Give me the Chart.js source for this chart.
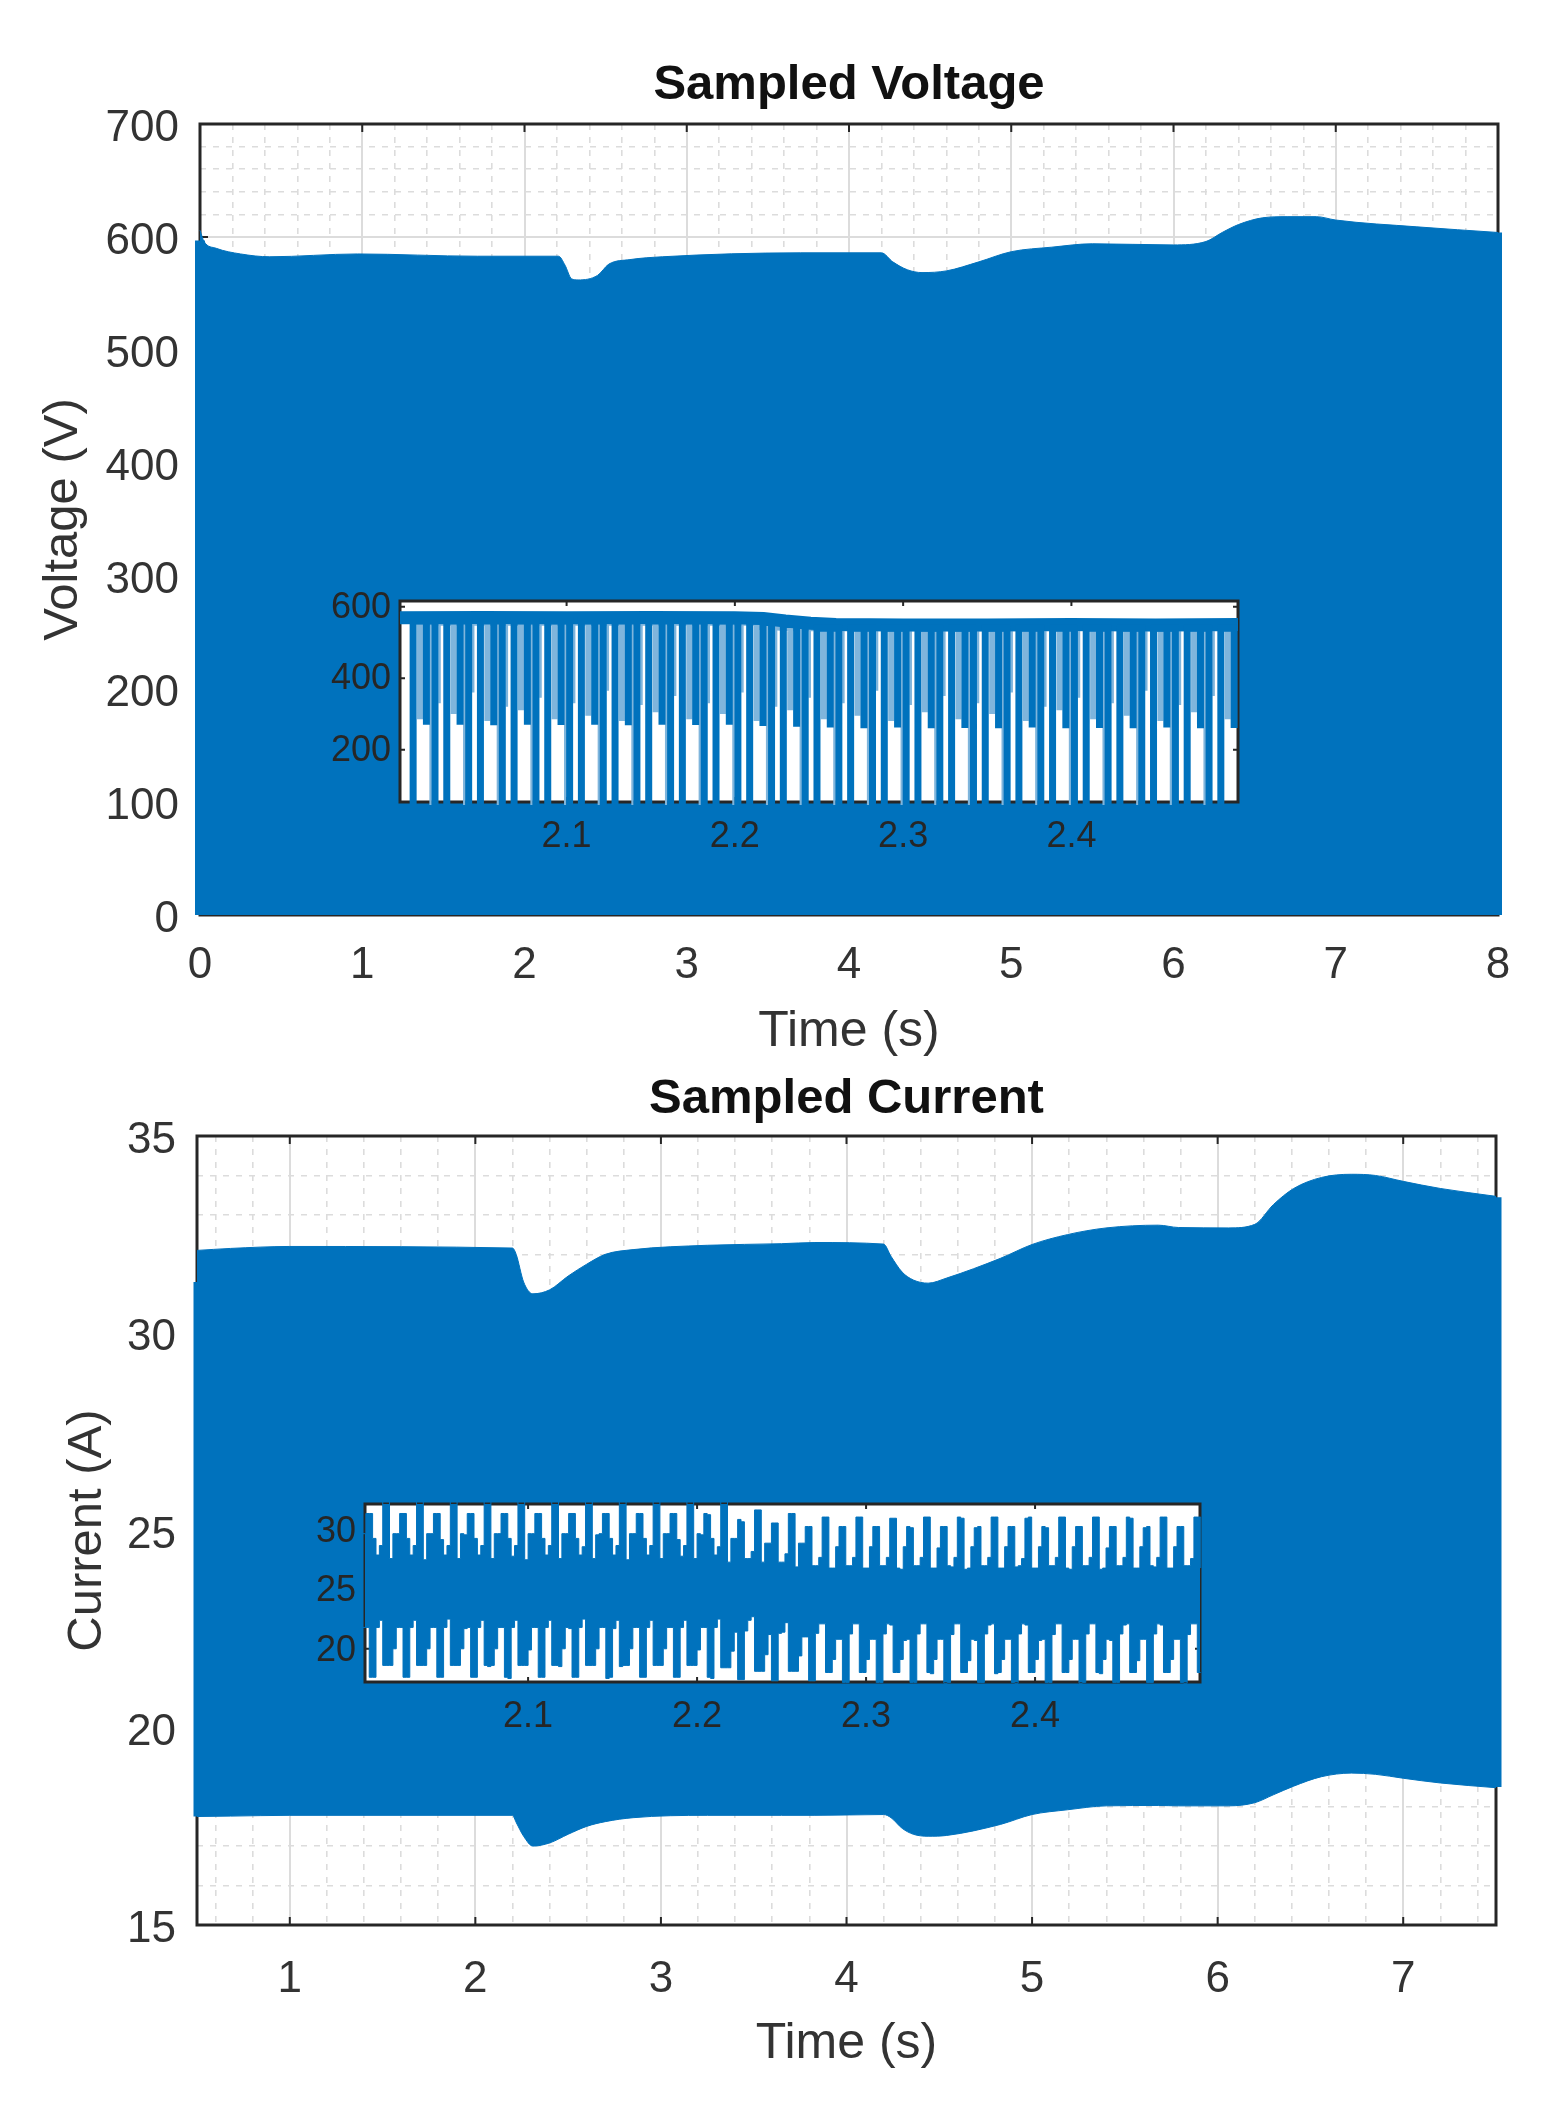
<!DOCTYPE html>
<html>
<head>
<meta charset="utf-8">
<title>Sampled Voltage and Current</title>
<script src="https://cdn.jsdelivr.net/npm/chart.js@4"></script>
<style>
  html, body { margin: 0; background: #fff; }
  #page { position: relative; width: 1562px; height: 2108px; overflow: hidden; }
  canvas { position: absolute; }
</style>
</head>
<body>
<div id="page">
  <canvas id="voltageMain" width="1562" height="1080" style="left:0;top:0"></canvas>
  <canvas id="currentMain" width="1562" height="1068" style="left:0;top:1040px"></canvas>
  <canvas id="voltageInset" width="920" height="270" style="left:330px;top:590px"></canvas>
  <canvas id="currentInset" width="920" height="250" style="left:295px;top:1493px"></canvas>
</div>
<script>
// tick labels
const voltXMajor = [0, 1, 2, 3, 4, 5, 6, 7, 8];
const voltYMajor = [0, 100, 200, 300, 400, 500, 600, 700];
const currXMajor = [1, 2, 3, 4, 5, 6, 7];
const currYMajor = [15, 20, 25, 30, 35];
const voltInsetX = [2.1, 2.2, 2.3, 2.4];
const voltInsetY = [200, 400, 600];
const currInsetX = [2.1, 2.2, 2.3, 2.4];
const currInsetY = [20, 25, 30];

// minor grid positions
const voltXMinor = [0.2,0.4,0.6,0.8,1.2,1.4,1.6,1.8,2.2,2.4,2.6,2.8,3.2,3.4,3.6,3.8,4.2,4.4,4.6,4.8,5.2,5.4,5.6,5.8,6.2,6.4,6.6,6.8,7.2,7.4,7.6,7.8];
const voltYMinor = [620,640,660,680];
const currXMinor = [0.6,0.8,1.2,1.4,1.6,1.8,2.2,2.4,2.6,2.8,3.2,3.4,3.6,3.8,4.2,4.4,4.6,4.8,5.2,5.4,5.6,5.8,6.2,6.4,6.6,6.8,7.2,7.4];
const currYMinor = [16,17,18,19,21,22,23,24,26,27,28,29,31,32,33,34];

// voltage envelope
const voltTime = [0,0.025,0.1,0.25,0.43,0.97,1.71,2.21,2.25,2.29,2.33,2.45,2.52,2.65,2.85,3.7,4.2,4.27,4.36,4.45,4.6,4.8,5,5.25,5.5,6,6.2,6.3,6.4,6.55,6.7,6.88,7,7.5,8];
const voltPeak = [606,596,590,585,582.5,585,583,583,575,563,562,566,576,580,582.5,586,586,578,571,568.5,570,578,587,591,594,593,596,604,611,617,618,618,615,609,604];
const voltEdgeLeftT = [0,0];
const voltEdgeLeftV = [0,597];
const voltEdgeRightT = [8,8];
const voltEdgeRightV = [0,604];

// current envelopes
const currTime = [0.5,0.68,1,2.2,2.22,2.26,2.31,2.4,2.5,2.6,2.7,2.85,3.25,3.65,3.83,4.2,4.24,4.3,4.36,4.44,4.54,4.83,5,5.19,5.4,5.68,5.79,6.06,6.2,6.3,6.41,6.56,6.72,6.85,7,7.2,7.5];
const currUpper = [32.1,32.15,32.2,32.16,32,31.3,31,31.1,31.45,31.75,32,32.12,32.23,32.27,32.3,32.26,31.95,31.55,31.35,31.27,31.4,31.9,32.25,32.5,32.67,32.74,32.68,32.67,32.76,33.26,33.67,33.95,34.03,34,33.85,33.67,33.47];
const currLower = [17.75,17.76,17.78,17.78,17.6,17.25,17,17.08,17.3,17.5,17.62,17.72,17.78,17.78,17.78,17.8,17.72,17.45,17.3,17.25,17.27,17.55,17.8,17.92,18.02,18.03,18.02,18.02,18.1,18.3,18.52,18.76,18.85,18.82,18.72,18.6,18.48];
const currEdgeLeftT = [0.5,0.5];
const currEdgeLeftV = [17.75,31.3];
const currEdgeRightT = [7.5,7.5];
const currEdgeRightV = [18.5,33.45];

// voltage zoom: vertical strokes, low ends run below the axis
const voltZoomTime = [
  2.0088,2.0088,2.0167,2.0167,2.0167,
  2.0218,2.0218,2.0288,2.0288,2.0367,2.0367,2.0367,
  2.0418,2.0418,2.0488,2.0488,2.0567,2.0567,2.0567,
  2.0618,2.0618,2.0688,2.0688,2.0767,2.0767,2.0767,
  2.0818,2.0818,2.0888,2.0888,2.0967,2.0967,2.0967,
  2.1018,2.1018,2.1088,2.1088,2.1167,2.1167,2.1167,
  2.1218,2.1218,2.1288,2.1288,2.1367,2.1367,2.1367,
  2.1418,2.1418,2.1488,2.1488,2.1567,2.1567,2.1567,
  2.1618,2.1618,2.1688,2.1688,2.1767,2.1767,2.1767,
  2.1818,2.1818,2.1888,2.1888,2.1967,2.1967,2.1967,
  2.2018,2.2018,2.2088,2.2088,2.2167,2.2167,2.2167,
  2.2218,2.2218,2.2288,2.2288,2.2367,2.2367,2.2367,
  2.2418,2.2418,2.2488,2.2488,2.2567,2.2567,2.2567,
  2.2618,2.2618,2.2688,2.2688,2.2767,2.2767,2.2767,
  2.2818,2.2818,2.2888,2.2888,2.2967,2.2967,2.2967,
  2.3018,2.3018,2.3088,2.3088,2.3167,2.3167,2.3167,
  2.3218,2.3218,2.3288,2.3288,2.3367,2.3367,2.3367,
  2.3418,2.3418,2.3488,2.3488,2.3567,2.3567,2.3567,
  2.3618,2.3618,2.3688,2.3688,2.3767,2.3767,2.3767,
  2.3818,2.3818,2.3888,2.3888,2.3967,2.3967,2.3967,
  2.4018,2.4018,2.4088,2.4088,2.4167,2.4167,2.4167,
  2.4218,2.4218,2.4288,2.4288,2.4367,2.4367,2.4367,
  2.4418,2.4418,2.4488,2.4488,2.4567,2.4567,2.4567,
  2.4618,2.4618,2.4688,2.4688,2.4767,2.4767,2.4767,
  2.4818,2.4818,2.4888,2.4888,2.4967,2.4967,2.4967
];
const voltZoomValue = [
  -50,560,560,270,560,
  560,-50,-50,560,560,270,560,
  560,-50,-50,560,560,268,560,
  560,-50,-50,560,560,270,560,
  560,-50,-50,560,560,269,560,
  560,-50,-50,560,560,270,560,
  560,-50,-50,560,560,268,560,
  560,-50,-50,560,560,270,560,
  560,-50,-50,560,560,269,560,
  560,-50,-50,560,560,270,560,
  560,-50,-50,560,560,266,560,
  555,-50,-50,550,550,264,550,
  545,-50,-50,540,540,262,540,
  540,-50,-50,540,540,260,540,
  540,-50,-50,540,540,262,540,
  540,-50,-50,540,540,260,540,
  540,-50,-50,540,540,261,540,
  540,-50,-50,540,540,260,540,
  540,-50,-50,540,540,262,540,
  540,-50,-50,540,540,260,540,
  540,-50,-50,540,540,261,540,
  540,-50,-50,540,540,260,540,
  540,-50,-50,540,540,262,540,
  540,-50,-50,540,540,260,540,
  540,-50,-50,540,540,261,540
];
const voltBandTime = [2.001,2.05,2.1,2.15,2.2,2.217,2.23,2.245,2.26,2.3,2.35,2.4,2.45,2.499];
const voltBandValue = [569,570,569,570,569,567,560,554,550,549,549,550,549,550];
// paler strokes beside the main ones
const voltFadeTime = [
  2.0129,2.0129,2.0129,2.0329,2.0329,2.0329,2.0529,2.0529,2.0529,2.0729,2.0729,2.0729,2.0929,2.0929,2.0929,
  2.1129,2.1129,2.1129,2.1329,2.1329,2.1329,2.1529,2.1529,2.1529,2.1729,2.1729,2.1729,2.1929,2.1929,2.1929,
  2.2129,2.2129,2.2129,2.2329,2.2329,2.2329,2.2529,2.2529,2.2529,2.2729,2.2729,2.2729,2.2929,2.2929,2.2929,
  2.3129,2.3129,2.3129,2.3329,2.3329,2.3329,2.3529,2.3529,2.3529,2.3729,2.3729,2.3729,2.3929,2.3929,2.3929,
  2.4129,2.4129,2.4129,2.4329,2.4329,2.4329,2.4529,2.4529,2.4529,2.4729,2.4729,2.4729,2.4929,2.4929,2.4929
];
const voltFadeValue = [
  555,285,555,555,300,555,555,280,555,555,310,555,555,285,555,
  555,295,555,555,280,555,555,305,555,555,285,555,555,300,555,
  555,280,545,540,310,540,540,285,540,540,295,540,540,280,540,
  540,305,540,540,285,540,540,300,540,540,280,540,540,310,540,
  540,285,540,540,295,540,540,280,540,540,305,540,540,285,540
];
const voltThinTime = [
  2.0192,2.0192,2.0192,2.0245,2.0245,2.0245,2.0392,2.0392,2.0392,2.0445,2.0445,2.0445,2.0592,2.0592,2.0592,2.0645,2.0645,2.0645,
  2.0792,2.0792,2.0792,2.0845,2.0845,2.0845,2.0992,2.0992,2.0992,2.1045,2.1045,2.1045,2.1192,2.1192,2.1192,2.1245,2.1245,2.1245,
  2.1392,2.1392,2.1392,2.1445,2.1445,2.1445,2.1592,2.1592,2.1592,2.1645,2.1645,2.1645,2.1792,2.1792,2.1792,2.1845,2.1845,2.1845,
  2.1992,2.1992,2.1992,2.2045,2.2045,2.2045,2.2192,2.2192,2.2192,2.2245,2.2245,2.2245,2.2392,2.2392,2.2392,2.2445,2.2445,2.2445,
  2.2592,2.2592,2.2592,2.2645,2.2645,2.2645,2.2792,2.2792,2.2792,2.2845,2.2845,2.2845,2.2992,2.2992,2.2992,2.3045,2.3045,2.3045,
  2.3192,2.3192,2.3192,2.3245,2.3245,2.3245,2.3392,2.3392,2.3392,2.3445,2.3445,2.3445,2.3592,2.3592,2.3592,2.3645,2.3645,2.3645,
  2.3792,2.3792,2.3792,2.3845,2.3845,2.3845,2.3992,2.3992,2.3992,2.4045,2.4045,2.4045,2.4192,2.4192,2.4192,2.4245,2.4245,2.4245,
  2.4392,2.4392,2.4392,2.4445,2.4445,2.4445,2.4592,2.4592,2.4592,2.4645,2.4645,2.4645,2.4792,2.4792,2.4792,2.4845,2.4845,2.4845
];
const voltThinValue = [
  555,-50,555,555,330,555,555,-50,555,555,360,555,555,-50,555,555,320,555,
  555,-50,555,555,345,555,555,-50,555,555,330,555,555,-50,555,555,365,555,
  555,-50,555,555,325,555,555,-50,555,555,350,555,555,-50,555,555,330,555,
  555,-50,555,555,360,555,555,-50,555,555,320,555,540,-50,540,540,345,540,
  540,-50,540,540,330,540,540,-50,540,540,365,540,540,-50,540,540,325,540,
  540,-50,540,540,350,540,540,-50,540,540,330,540,540,-50,540,540,360,540,
  540,-50,540,540,320,540,540,-50,540,540,345,540,540,-50,540,540,330,540,
  540,-50,540,540,365,540,540,-50,540,540,325,540,540,-50,540,540,350,540
];

// current zoom: one sample every 2 ms
const currZoomTime = [
  2.000,2.002,2.004,2.006,2.008,2.010,2.012,
  2.014,2.016,2.018,2.020,2.022,2.024,2.026,2.028,2.030,2.032,
  2.034,2.036,2.038,2.040,2.042,2.044,2.046,2.048,2.050,2.052,
  2.054,2.056,2.058,2.060,2.062,2.064,2.066,2.068,2.070,2.072,
  2.074,2.076,2.078,2.080,2.082,2.084,2.086,2.088,2.090,2.092,
  2.094,2.096,2.098,2.100,2.102,2.104,2.106,2.108,2.110,2.112,
  2.114,2.116,2.118,2.120,2.122,2.124,2.126,2.128,2.130,2.132,
  2.134,2.136,2.138,2.140,2.142,2.144,2.146,2.148,2.150,2.152,
  2.154,2.156,2.158,2.160,2.162,2.164,2.166,2.168,2.170,2.172,
  2.174,2.176,2.178,2.180,2.182,2.184,2.186,2.188,2.190,2.192,
  2.194,2.196,2.198,2.200,2.202,2.204,2.206,2.208,2.210,2.212,
  2.214,2.216,2.218,2.220,2.222,2.224,2.226,2.228,2.230,2.232,
  2.234,2.236,2.238,2.240,2.242,2.244,2.246,2.248,2.250,2.252,
  2.254,2.256,2.258,2.260,2.262,2.264,2.266,2.268,2.270,2.272,
  2.274,2.276,2.278,2.280,2.282,2.284,2.286,2.288,2.290,2.292,
  2.294,2.296,2.298,2.300,2.302,2.304,2.306,2.308,2.310,2.312,
  2.314,2.316,2.318,2.320,2.322,2.324,2.326,2.328,2.330,2.332,
  2.334,2.336,2.338,2.340,2.342,2.344,2.346,2.348,2.350,2.352,
  2.354,2.356,2.358,2.360,2.362,2.364,2.366,2.368,2.370,2.372,
  2.374,2.376,2.378,2.380,2.382,2.384,2.386,2.388,2.390,2.392,
  2.394,2.396,2.398,2.400,2.402,2.404,2.406,2.408,2.410,2.412,
  2.414,2.416,2.418,2.420,2.422,2.424,2.426,2.428,2.430,2.432,
  2.434,2.436,2.438,2.440,2.442,2.444,2.446,2.448,2.450,2.452,
  2.454,2.456,2.458,2.460,2.462,2.464,2.466,2.468,2.470,2.472,
  2.474,2.476,2.478,2.480,2.482,2.484,2.486,2.488,2.490,2.492,
  2.494,2.496,2.498,2.500
];
const currZoomUpper = [
  29.7,29.7,31.4,31.4,29.3,27.9,28.7,
  32.5,32.5,27.6,29.7,29.7,31.4,31.4,29.3,27.9,28.7,
  32.5,32.5,27.5,29.7,29.7,31.4,31.4,29.2,27.9,28.7,
  32.5,32.5,27.6,29.7,29.6,31.4,31.4,29.3,27.9,28.7,
  32.5,32.5,27.6,29.7,29.7,31.4,31.4,29.3,27.8,28.7,
  32.5,32.5,27.5,29.7,29.7,31.4,31.4,29.3,27.9,28.7,
  32.5,32.5,27.6,29.7,29.7,31.4,31.4,29.3,27.9,28.6,
  32.5,32.5,27.6,29.6,29.7,31.4,31.4,29.3,27.9,28.7,
  32.5,32.5,27.5,29.7,29.7,31.4,31.4,29.3,27.9,28.7,
  32.5,32.5,27.6,29.7,29.7,31.4,31.4,29.2,27.8,28.7,
  32.5,32.5,27.6,29.7,29.6,31.4,31.3,29.3,27.9,28.6,
  32.5,32.5,27.3,29.3,29.3,30.9,30.7,27.6,27.6,28.2,
  31.7,31.7,27.3,28.9,28.9,30.6,30.6,27.3,27.3,28.0,
  31.4,31.4,26.9,28.9,28.9,30.3,30.3,27.0,27.0,27.7,
  31.1,31.1,26.8,26.8,28.6,30.3,30.3,27.0,27.0,27.7,
  31.1,31.1,26.8,26.8,28.6,30.3,30.3,27.0,27.0,27.7,
  31.0,31.0,26.8,26.7,28.6,30.3,30.2,27.0,27.0,27.7,
  31.1,31.1,26.8,26.8,28.5,30.3,30.3,27.0,26.9,27.7,
  31.1,31.0,26.7,26.8,28.6,30.2,30.3,27.0,27.0,27.7,
  31.1,31.1,26.8,26.8,28.6,30.3,30.3,26.9,27.0,27.6,
  31.0,31.1,26.8,26.8,28.6,30.3,30.2,27.0,27.0,27.7,
  31.1,31.1,26.8,26.7,28.6,30.3,30.3,27.0,27.0,27.7,
  31.1,31.1,26.7,26.8,28.5,30.3,30.3,27.0,27.0,27.7,
  31.1,31.0,26.8,26.8,28.6,30.2,30.3,27.0,26.9,27.7,
  31.1,31.1,26.8,26.8,28.6,30.3,30.3,27.0,27.0,27.6,
  31.1,31.1,26.8,26.8
];
const currZoomLower = [
  20.0,21.8,21.8,17.6,17.6,21.8,22.4,
  18.6,18.6,18.6,20.0,21.8,21.8,17.6,17.6,21.8,22.4,
  18.6,18.6,18.6,20.0,21.8,21.8,17.6,17.6,21.8,22.5,
  18.6,18.6,18.6,20.0,21.7,21.8,17.6,17.6,21.8,22.4,
  18.6,18.5,18.6,20.0,21.8,21.8,17.6,17.5,21.8,22.4,
  18.6,18.6,18.6,19.9,21.8,21.8,17.6,17.6,21.8,22.4,
  18.6,18.6,18.5,20.0,21.8,21.7,17.6,17.6,21.8,22.5,
  18.6,18.6,18.6,20.0,21.8,21.8,17.5,17.6,21.7,22.4,
  18.5,18.6,18.6,20.0,21.8,21.8,17.6,17.6,21.8,22.4,
  18.6,18.6,18.6,20.0,21.8,21.8,17.6,17.6,21.8,22.4,
  18.6,18.6,18.6,19.9,21.8,21.8,17.6,17.5,21.8,22.5,
  18.4,18.4,18.4,19.8,21.4,17.4,17.4,21.5,22.4,22.7,
  18.1,18.1,18.1,19.5,21.2,17.3,17.3,21.3,21.4,22.2,
  18.1,18.1,18.1,19.4,21.0,21.0,17.3,17.3,21.3,22.1,
  22.1,18.0,18.0,19.1,20.8,20.8,17.15,17.15,21.25,22.1,
  22.1,18.0,18.0,19.1,20.8,20.8,17.15,17.15,21.25,22.1,
  22.0,18.0,18.0,19.1,20.7,20.8,17.15,17.15,21.25,22.1,
  22.1,18.0,17.9,19.1,20.8,20.8,17.1,17.15,21.2,22.1,
  22.1,18.0,18.0,19.0,20.8,20.7,17.15,17.15,21.25,22.0,
  22.1,17.9,18.0,19.1,20.8,20.8,17.15,17.1,21.25,22.1,
  22.0,18.0,18.0,19.1,20.7,20.8,17.15,17.15,21.2,22.1,
  22.1,18.0,18.0,19.1,20.8,20.8,17.1,17.15,21.25,22.1,
  22.1,18.0,17.9,19.1,20.8,20.7,17.15,17.15,21.25,22.0,
  22.1,18.0,18.0,19.0,20.8,20.8,17.15,17.15,21.25,22.1,
  22.0,18.0,18.0,19.1,20.8,20.8,17.15,17.1,21.2,22.1,
  22.1,18.0,18.0,19.1
];

const BLUE = '#0072BD';
const FADE = '#7FB5DC';
const INK = '#262626';
const GRID = '#dcdcdc';
const FONT = '"Liberation Sans", Arial, sans-serif';

function points(xs, ys) {
  return xs.map((x, i) => ({ x: x, y: ys[i] }));
}

// frame and inward tick marks sit under the data, as in the picture
function framePlugin(xMajor, yMajor, tickLen, width) {
  return {
    id: 'frame',
    beforeDatasetsDraw(chart) {
      const { ctx, chartArea: a, scales } = chart;
      ctx.save();
      ctx.strokeStyle = INK;
      ctx.lineWidth = width;
      ctx.strokeRect(a.left, a.top, a.right - a.left, a.bottom - a.top);
      ctx.lineWidth = 2;
      ctx.beginPath();
      xMajor.forEach(v => {
        const x = scales.x.getPixelForValue(v);
        ctx.moveTo(x, a.top); ctx.lineTo(x, a.top + tickLen);
        ctx.moveTo(x, a.bottom); ctx.lineTo(x, a.bottom - tickLen);
      });
      yMajor.forEach(v => {
        const y = scales.y.getPixelForValue(v);
        ctx.moveTo(a.left, y); ctx.lineTo(a.left + tickLen, y);
        ctx.moveTo(a.right, y); ctx.lineTo(a.right - tickLen, y);
      });
      ctx.stroke();
      ctx.restore();
    }
  };
}

const whiteArea = {
  id: 'whiteArea',
  beforeDraw(chart) {
    const { ctx, chartArea: a } = chart;
    ctx.save();
    ctx.fillStyle = '#fff';
    ctx.fillRect(a.left, a.top, a.right - a.left, a.bottom - a.top);
    ctx.restore();
  }
};

function axis(min, max, major, minor, cfg) {
  const all = major.concat(minor);
  const isMajor = v => major.includes(v);
  return {
    type: 'linear',
    min: min,
    max: max,
    afterBuildTicks: s => { s.ticks = all.slice().sort((a, b) => a - b).map(v => ({ value: v })); },
    afterFit: s => {
      if (cfg.width !== undefined) s.width = cfg.width;
      if (cfg.height !== undefined) s.height = cfg.height;
      // labels near the ends must not push the plot area around
      s.paddingTop = 0; s.paddingBottom = 0; s.paddingLeft = 0; s.paddingRight = 0;
    },
    border: { display: false, dash: c => (c.tick && isMajor(c.tick.value)) ? [] : [6, 7] },
    grid: {
      display: cfg.grid,
      drawTicks: false,
      color: GRID,
      lineWidth: c => (c.tick && isMajor(c.tick.value)) ? 2 : 1.6
    },
    ticks: {
      autoSkip: false,
      maxRotation: 0,
      padding: cfg.pad,
      labelOffset: cfg.labelOffset || 0,
      color: cfg.color,
      font: { family: FONT, size: cfg.size },
      callback: v => isMajor(v) ? String(v) : ''
    },
    title: cfg.title ? {
      display: true,
      text: cfg.title,
      color: '#333',
      font: { family: FONT, size: cfg.titleSize },
      padding: cfg.titlePad
    } : { display: false }
  };
}

function baseOptions(extra) {
  return Object.assign({
    responsive: false,
    animation: false,
    devicePixelRatio: 1,
    elements: { point: { radius: 0 }, line: { tension: 0 } },
    plugins: { legend: { display: false }, tooltip: { enabled: false } }
  }, extra);
}

function mainTitle(text, top, bottom) {
  return {
    display: true, text: text, color: '#111', fullSize: false,
    font: { family: FONT, size: 49, weight: 'bold', lineHeight: 1.2 },
    padding: { top: top, bottom: bottom }
  };
}

const voltOptions = baseOptions({
  layout: { autoPadding: false, padding: { right: 64 } },
  scales: {
    x: axis(0, 8, voltXMajor, voltXMinor, { height: 165, grid: true, pad: 24, size: 44, color: '#333', title: 'Time (s)', titleSize: 50, titlePad: { top: 0, bottom: 18 } }),
    y: axis(0, 700, voltYMajor, voltYMinor, { width: 200, grid: true, pad: 21, labelOffset: 5, size: 44, color: '#333', title: 'Voltage (V)', titleSize: 49, titlePad: { top: 34, bottom: 0 } })
  }
});
voltOptions.plugins.title = mainTitle('Sampled Voltage', 56, 9.2);

new Chart(document.getElementById('voltageMain'), {
  type: 'line',
  data: { datasets: [
    { data: points(voltTime, voltPeak), borderColor: BLUE, backgroundColor: BLUE, borderWidth: 1, cubicInterpolationMode: 'monotone', fill: 'origin', clip: false },
    { data: points(voltEdgeLeftT, voltEdgeLeftV), borderColor: BLUE, borderWidth: 10, fill: false, clip: false },
    { data: points(voltEdgeRightT, voltEdgeRightV), borderColor: BLUE, borderWidth: 8, fill: false, clip: false }
  ] },
  options: voltOptions,
  plugins: [framePlugin(voltXMajor, voltYMajor, 8, 3)]
});

const currOptions = baseOptions({
  layout: { autoPadding: false, padding: { right: 66 } },
  scales: {
    x: axis(0.5, 7.5, currXMajor, currXMinor, { height: 183, grid: true, pad: 28, size: 44, color: '#333', title: 'Time (s)', titleSize: 50, titlePad: { top: 0, bottom: 34 } }),
    y: axis(15, 35, currYMajor, currYMinor, { width: 197, grid: true, pad: 21, labelOffset: 5, size: 44, color: '#333', title: 'Current (A)', titleSize: 49, titlePad: { top: 58, bottom: 0 } })
  }
});
currOptions.plugins.title = mainTitle('Sampled Current', 30, 7.2);

new Chart(document.getElementById('currentMain'), {
  type: 'line',
  data: { datasets: [
    { data: points(currTime, currUpper), borderColor: BLUE, backgroundColor: BLUE, borderWidth: 1, cubicInterpolationMode: 'monotone', fill: '+1', clip: false },
    { data: points(currTime, currLower), borderColor: BLUE, borderWidth: 1, cubicInterpolationMode: 'monotone', fill: false, clip: false },
    { data: points(currEdgeLeftT, currEdgeLeftV), borderColor: BLUE, borderWidth: 7, fill: false, clip: false },
    { data: points(currEdgeRightT, currEdgeRightV), borderColor: BLUE, borderWidth: 11, fill: false, clip: false }
  ] },
  options: currOptions,
  plugins: [framePlugin(currXMajor, currYMajor, 8, 3)]
});

const voltInsetOptions = baseOptions({
  layout: { autoPadding: false, padding: { top: 11, right: 12 } },
  scales: {
    x: axis(2.001, 2.499, voltInsetX, [], { height: 58, grid: false, pad: 13, size: 36, color: INK }),
    y: axis(53.6, 616, voltInsetY, [], { width: 70, grid: false, pad: 9, labelOffset: 1, size: 36, color: INK })
  }
});

new Chart(document.getElementById('voltageInset'), {
  type: 'line',
  data: { datasets: [
    { data: points(voltZoomTime, voltZoomValue), borderColor: BLUE, borderWidth: 7, borderJoinStyle: 'miter', fill: false, clip: 3 },
    { data: points(voltBandTime, voltBandValue), borderColor: BLUE, borderWidth: 13, fill: false, clip: 3 },
    { data: points(voltFadeTime, voltFadeValue), borderColor: FADE, borderWidth: 6, borderJoinStyle: 'miter', fill: false, clip: 3 },
    { data: points(voltThinTime, voltThinValue), borderColor: FADE, borderWidth: 2.5, borderJoinStyle: 'miter', fill: false, clip: 3 }
  ] },
  options: voltInsetOptions,
  plugins: [whiteArea, framePlugin(voltInsetX, voltInsetY, 5, 3)]
});

const currInsetOptions = baseOptions({
  layout: { autoPadding: false, padding: { top: 11, right: 15 } },
  scales: {
    x: axis(2.0035, 2.4976, currInsetX, [], { height: 61, grid: false, pad: 13, size: 36, color: INK }),
    y: axis(17.2, 32.2, currInsetY, [], { width: 70, grid: false, pad: 9, labelOffset: 2, size: 36, color: INK })
  }
});

new Chart(document.getElementById('currentInset'), {
  type: 'line',
  data: { datasets: [
    { data: points(currZoomTime, currZoomUpper), borderColor: BLUE, backgroundColor: BLUE, borderWidth: 1, stepped: 'before', fill: '+1', clip: 3 },
    { data: points(currZoomTime, currZoomLower), borderColor: BLUE, borderWidth: 1, stepped: 'before', fill: false, clip: 3 }
  ] },
  options: currInsetOptions,
  plugins: [whiteArea, framePlugin(currInsetX, currInsetY, 5, 3)]
});
</script>
</body>
</html>
